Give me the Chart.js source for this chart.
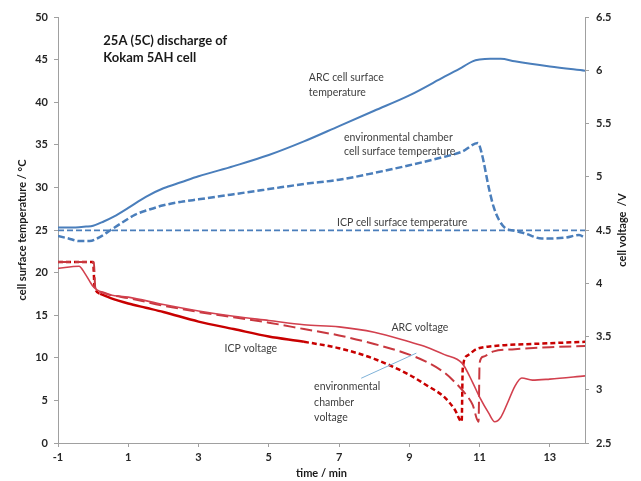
<!DOCTYPE html>
<html><head><meta charset="utf-8">
<script src="https://cdn.jsdelivr.net/npm/chart.js@4.4.1/dist/chart.umd.min.js"></script>
<style>html,body{margin:0;padding:0;background:#fff}#wrap{width:641px;height:481px}</style>
</head><body><div id="wrap"><canvas id="c" width="641" height="481"></canvas></div>
<script>
// ---- data (time in min) ----
const xTicks = [-1, 1, 3, 5, 7, 9, 11, 13];
const arcTempT = [-1,-0.5,-0.2,0,0.3,0.6,1,1.5,2,2.5,3,4,5,6,7,8,9,10,10.5,10.8,11,11.3,11.6,12,13,14];
const arcTempY = [25.3,25.3,25.4,25.5,26.0,26.6,27.6,28.9,29.9,30.6,31.3,32.5,33.8,35.4,37.2,39.0,40.8,43.0,44.1,44.8,45.0,45.1,45.1,44.8,44.2,43.7];
const envTempT = [-1,-0.7,-0.4,-0.1,0.2,0.5,0.8,1.2,1.6,2,2.5,3,4,5,6,7,8,9,10,10.5,10.95,11.06,11.26,11.4,11.55,11.71,12.0,12.29,12.77,13.43,13.83,14];
const envTempY = [24.3,24.0,23.7,23.7,24.2,25.0,25.8,26.8,27.4,27.9,28.3,28.6,29.2,29.8,30.4,30.9,31.7,32.6,33.6,34.2,35.2,34.0,30.0,27.7,26.2,25.3,24.9,24.6,24.0,24.1,24.4,24.1];
const icpTempT = [-1, 14];
const icpTempY = [24.95, 24.95];
const icpVoltT = [-1,0.0,0.04,0.2,0.5,1,1.5,2,3,4,5,6,7,8,9,9.5,10,10.3,10.49,10.52,10.65,10.9,11.4,12.5,14];
const icpVoltY = [4.2,4.2,3.97,3.9,3.86,3.81,3.77,3.73,3.64,3.57,3.5,3.45,3.39,3.29,3.14,3.04,2.93,2.81,2.70,3.2,3.32,3.38,3.41,3.43,3.45];
const arcVoltT = [-1,-0.4,-0.25,-0.1,0,0.2,0.5,1,2,3,4,5,6,7,8,9,9.5,10,10.5,10.8,11.0,11.26,11.43,11.6,11.8,12.0,12.2,12.5,13,14];
const arcVoltY = [4.14,4.16,4.1,4.02,3.97,3.92,3.89,3.87,3.80,3.74,3.69,3.65,3.61,3.59,3.54,3.45,3.40,3.33,3.25,3.07,2.93,2.78,2.70,2.74,2.88,3.03,3.11,3.09,3.10,3.13];
const envVoltT = [-1,0.02,0.06,0.2,0.5,1,2,3,4,5,6,7,8,9,9.5,10,10.3,10.6,10.8,10.97,11.0,11.1,11.4,12,13,14];
const envVoltY = [4.2,4.2,3.96,3.92,3.89,3.86,3.79,3.73,3.68,3.63,3.57,3.51,3.43,3.33,3.26,3.16,3.07,2.96,2.86,2.70,3.25,3.31,3.36,3.38,3.40,3.41];

const labels = [
  {t:0.29, y:47.2, text:'25A (5C) discharge of', bold:true},
  {t:0.29, y:45.2, text:'Kokam 5AH cell', bold:true},
  {t:6.14, y:42.9, text:'ARC cell surface'},
  {t:6.14, y:41.1, text:'temperature'},
  {t:7.14, y:35.9, text:'environmental chamber'},
  {t:7.14, y:34.2, text:'cell surface temperature'},
  {t:6.94, y:25.9, text:'ICP cell surface temperature'},
  {t:3.74, y:11.1, text:'ICP voltage'},
  {t:8.49, y:13.5, text:'ARC voltage'},
  {t:6.29, y:6.56, text:'environmental'},
  {t:6.29, y:4.69, text:'chamber'},
  {t:6.29, y:2.93, text:'voltage'}
];
const arrow = {t1:7.63, y1:7.6, t2:9.2, y2:10.55};

const pts = (xs, ys) => xs.map((x, i) => ({x: x, y: ys[i]}));
const BLUE = '#4a7ebb';
const FONT = 'Lato, "Liberation Sans", sans-serif';

const annot = {
  id: 'annot',
  afterDatasetsDraw(chart) {
    const ctx = chart.ctx, xs = chart.scales.x, ys = chart.scales.y;
    ctx.save();
    ctx.textBaseline = 'middle';
    ctx.textAlign = 'left';
    labels.forEach(l => {
      ctx.font = l.bold ? 'bold 13px ' + FONT : '10.5px ' + FONT;
      ctx.fillStyle = l.bold ? '#1a1a1a' : '#404040';
      ctx.fillText(l.text, xs.getPixelForValue(l.t), ys.getPixelForValue(l.y));
    });
    ctx.strokeStyle = '#7fb2d8';
    ctx.lineWidth = 1;
    ctx.beginPath();
    ctx.moveTo(xs.getPixelForValue(arrow.t1), ys.getPixelForValue(arrow.y1));
    ctx.lineTo(xs.getPixelForValue(arrow.t2), ys.getPixelForValue(arrow.y2));
    ctx.stroke();
    // right axis title, reading bottom to top
    const y2 = chart.scales.y2;
    ctx.translate(622, (y2.top + y2.bottom) / 2);
    ctx.rotate(-Math.PI / 2);
    ctx.textAlign = 'center';
    ctx.font = 'bold 11px ' + FONT;
    ctx.fillStyle = '#1a1a1a';
    ctx.fillText('cell voltage  /V', 0, 0);
    ctx.restore();
  }
};

const common = {pointRadius: 0, fill: false, cubicInterpolationMode: 'monotone'};
new Chart(document.getElementById('c'), {
  type: 'line',
  data: {datasets: [
    Object.assign({label:'ARC cell surface temperature', data: pts(arcTempT, arcTempY), borderColor: BLUE, borderWidth: 2, yAxisID:'y'}, common),
    Object.assign({label:'environmental chamber cell surface temperature', data: pts(envTempT, envTempY), borderColor: BLUE, borderWidth: 2.5, borderDash:[7,3], yAxisID:'y'}, common),
    Object.assign({label:'ICP cell surface temperature', data: pts(icpTempT, icpTempY), borderColor: BLUE, borderWidth: 1.8, borderDash:[6,3], yAxisID:'y'}, common),
    Object.assign({label:'ARC voltage', data: pts(arcVoltT, arcVoltY), borderColor: '#d2404e', borderWidth: 1.6, yAxisID:'y2'}, common),
    Object.assign({label:'environmental chamber voltage', data: pts(envVoltT, envVoltY), borderColor: '#c8383f', borderWidth: 2, borderDash:[12,5], yAxisID:'y2'}, common),
    Object.assign({label:'ICP voltage', data: pts(icpVoltT, icpVoltY), borderColor: '#c80000', borderWidth: 2.5, borderDash:[5,3], yAxisID:'y2',
      segment: {borderDash: c => (c.p0.parsed.x >= 0.1 && c.p0.parsed.x < 6) ? [] : [5,3]}}, common)
  ]},
  options: {
    responsive: false, animation: false,
    layout: {padding: {top: 17, left: 0, right: 0, bottom: 0}},
    plugins: {legend: {display: false}, tooltip: {enabled: false}},
    scales: {
      x: {
        type: 'linear', min: -1, max: 14,
        afterBuildTicks: s => { s.ticks = xTicks.map(v => ({value: v})); },
        afterFit: s => { s.height = 38; },
        grid: {drawOnChartArea: false, tickLength: 4, color: '#a0a0a0'},
        border: {color: '#a0a0a0'},
        ticks: {padding: 4, color: '#262626', font: {family: FONT, size: 11, weight: 'bold'}, callback: v => String(v)},
        title: {display: true, text: 'time / min', color: '#1a1a1a', padding: {top: 0, bottom: 1}, font: {family: FONT, size: 11, weight: 'bold'}}
      },
      y: {
        position: 'left', min: 0, max: 50,
        afterFit: s => { s.width = 58; },
        grid: {drawOnChartArea: false, tickLength: 4, color: '#a0a0a0'},
        border: {color: '#a0a0a0'},
        ticks: {stepSize: 5, padding: 6, color: '#262626', font: {family: FONT, size: 11, weight: 'bold'}},
        title: {display: true, text: 'cell surface temperature / °C', color: '#1a1a1a', padding: {top: 16, bottom: 0}, font: {family: FONT, size: 11, weight: 'bold'}}
      },
      y2: {
        position: 'right', min: 2.5, max: 6.5,
        afterFit: s => { s.width = 56; },
        grid: {drawOnChartArea: false, tickLength: 4, color: '#a0a0a0'},
        border: {color: '#a0a0a0'},
        ticks: {stepSize: 0.5, padding: 7, color: '#262626', font: {family: FONT, size: 11, weight: 'bold'}, callback: v => String(v)}
      }
    }
  },
  plugins: [annot]
});
</script></body></html>
